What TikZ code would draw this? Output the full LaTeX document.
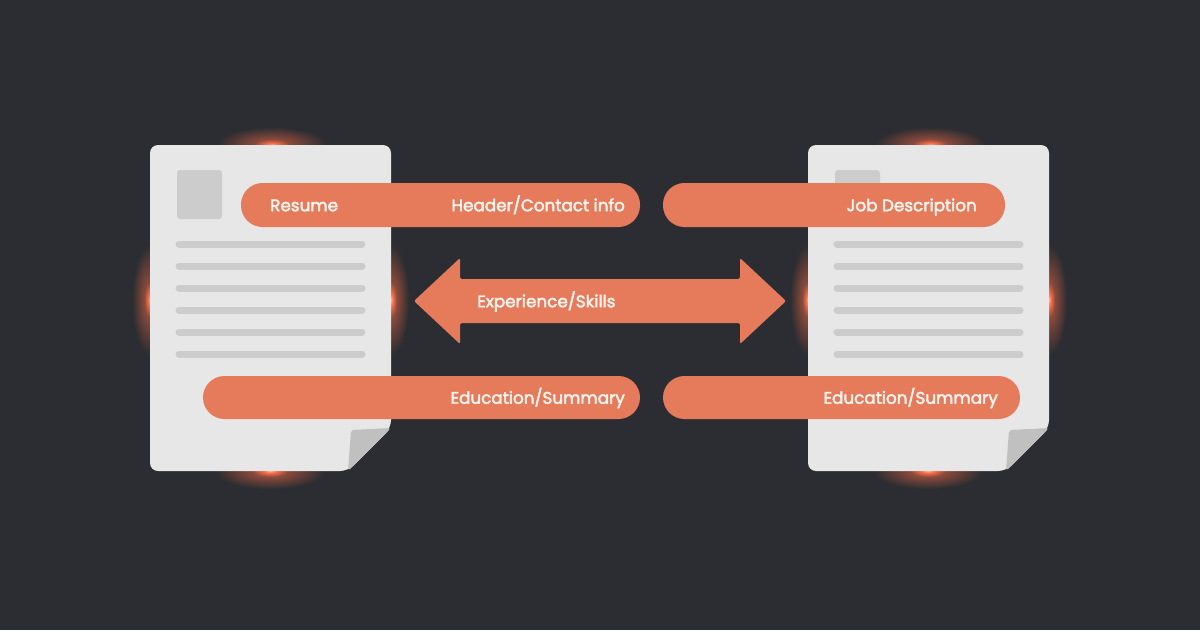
\documentclass[tikz,border=0pt]{standalone}
\usepackage{fontspec}
\setmainfont{Poppins}
\newfontfamily\lblfont[FakeBold=2.5]{Poppins}
\definecolor{bg}{RGB}{44,45,50}
\definecolor{paper}{RGB}{231,231,231}
\definecolor{pline}{RGB}{204,204,204}
\definecolor{flap}{RGB}{192,192,192}
\definecolor{accent}{RGB}{230,123,91}
\definecolor{glow}{RGB}{255,110,70}
\definecolor{txt}{RGB}{255,244,238}
\pgfdeclareradialshading{glowshade}{\pgfpoint{0bp}{0bp}}{color(0bp)=(glow!55!white); color(2.5bp)=(glow); color(8bp)=(glow!45!bg); color(25bp)=(bg); color(50bp)=(bg)}
\tikzset{
  pill/.style={fill=accent, rounded corners=21.5},
  lbl/.style={font=\lblfont\fontsize{16.8}{18}\selectfont, text=txt, inner sep=0pt},
  docline/.style={draw=pline, line width=7pt, line cap=round},
  glowspot/.style={shading=glowshade}
}
\begin{document}
\begin{tikzpicture}[x=1pt,y=-1pt]
\fill[bg] (0,0) rectangle (1200,630);
\useasboundingbox (0,0) rectangle (1200,630);
% glows
\foreach \cx in {0,658}{
  \shade[glowspot] (272+\cx,145) ellipse (55 and 18);
  \shade[glowspot] (270+\cx,471) ellipse (55 and 18);
  \shade[glowspot] (150+\cx,300) ellipse (18 and 55);
  \shade[glowspot] (391+\cx,300) ellipse (18 and 55);
}
% papers
\foreach \cx/\nm in {0/left,658/right}{
  \begin{scope}[xshift=\cx]
  \fill[paper, rounded corners=8] (150,471) -- (150,145) -- (391,145) -- (391,428) -- (348,471) -- cycle;
  \fill[flap, rounded corners=3] (391,428) -- (351,430) -- (348,471) -- cycle;
  \fill[pline, rounded corners=3] (177,170) rectangle (222,219);
  \foreach \yy in {244,266,288,310,332,354}{
    \draw[docline] (179,\yy) -- (362,\yy);
  }
  \end{scope}
}
% pills
\node[pill, minimum width=399, minimum height=44, inner sep=0] (tl) at (440.5,205) {};
\node[pill, minimum width=342, minimum height=44, inner sep=0] (tr) at (834,205) {};
\node[pill, minimum width=437, minimum height=43, inner sep=0] (bl) at (421.5,397.5) {};
\node[pill, minimum width=357, minimum height=43, inner sep=0] (br) at (841.5,397.5) {};
\node[lbl, anchor=mid west] (resume) at (270,208.5) {Resume};
\node[lbl, anchor=mid east] (header) at (625,208.5) {Header/Contact info};
\node[lbl, anchor=mid east] (job) at (977,208.5) {Job Description};
\node[lbl, anchor=mid east] (edl) at (625,401) {Education/Summary};
\node[lbl, anchor=mid east] (edr) at (998,401) {Education/Summary};
% double arrow
\fill[accent, rounded corners=2] (414,301) -- (460,258) -- (460,279) -- (740,279) -- (740,258) -- (786,301) -- (740,344) -- (740,323) -- (460,323) -- (460,344) -- cycle;
\node[lbl, anchor=mid west] (exp) at (477,304.5) {Experience/Skills};
\end{tikzpicture}
\end{document}
